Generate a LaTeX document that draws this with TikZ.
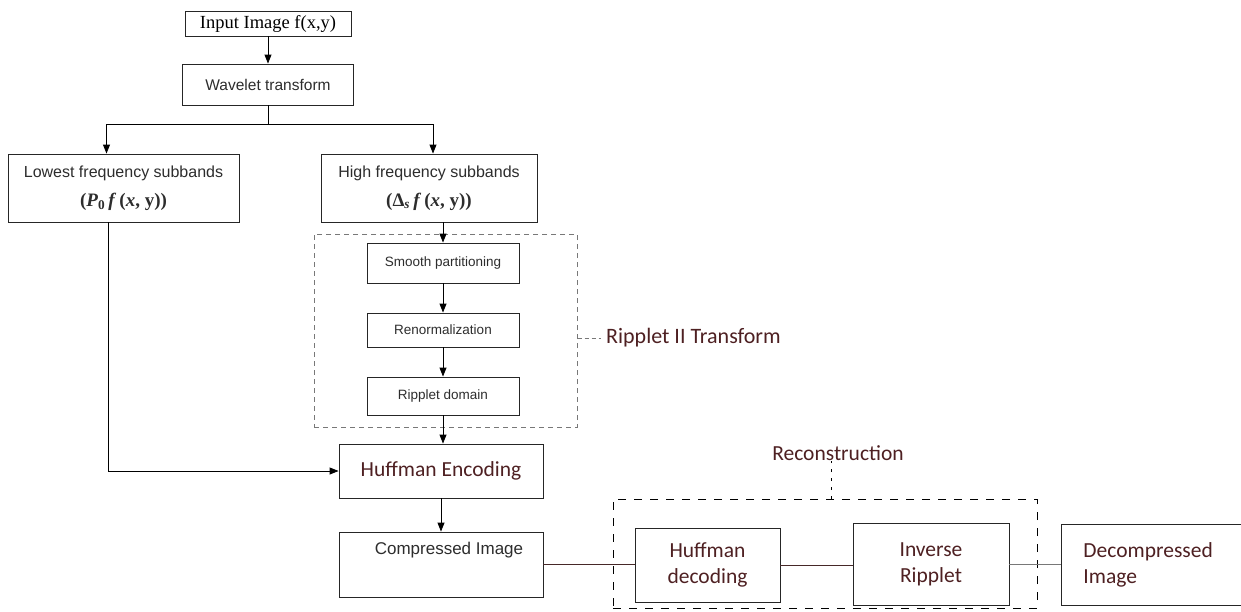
\documentclass[tikz,border=0pt]{standalone}
\usepackage{fontspec}
\setmainfont{Liberation Serif}
\newfontfamily\arialf{Liberation Sans}
\newfontfamily\calif{Carlito}
\usetikzlibrary{arrows.meta}
\definecolor{labred}{RGB}{78,32,34}
\definecolor{txtgray}{RGB}{45,45,45}
\definecolor{brn}{RGB}{70,40,40}
\definecolor{dgray}{RGB}{120,120,120}
\newcommand{\mathtxt}[1]{{\rmfamily\bfseries\fontsize{19}{20}\selectfont #1}}
\begin{document}
\begin{tikzpicture}[x=1pt,y=-1pt,
  box/.style={draw=black!85, line width=0.9pt, rectangle, inner sep=0pt, align=center, fill=white},
  ar/.style={font=\arialf\fontsize{15.5}{19}\selectfont, text=txtgray},
  arsmall/.style={font=\arialf\fontsize{13.5}{16}\selectfont, text=txtgray},
  cal/.style={font=\calif\fontsize{21.5}{26}\selectfont, text=labred},
  arr/.style={draw=black, line width=0.9pt, -{Triangle[length=9pt,width=7pt]}},
  conn/.style={draw=brn, line width=1pt},
  rbox/.style={draw=dgray, line width=1pt, dash pattern=on 5pt off 4pt, rectangle, inner sep=0pt},
  recbox/.style={draw=black, line width=1pt, dash pattern=on 8pt off 8pt, rectangle, inner sep=0pt}
]
\useasboundingbox (0,0) rectangle (1241,611);
\clip (0,0) rectangle (1241,611);
\fill[white] (0,0) rectangle (1241,611);

% top
\node[box, minimum width=166, minimum height=25, font=\fontsize{18.5}{20}\selectfont] (in) at (268,23.5) {Input Image f(x,y)};
\node[box, minimum width=171, minimum height=41, ar] (wav) at (268,84.5) {Wavelet transform};

% subbands
\node[box, minimum width=231, minimum height=68, ar, font=\arialf\fontsize{16}{29}\selectfont] (low) at (123.5,188)
  {Lowest frequency subbands\\ \mathtxt{(\textit{P}\textsubscript{0}\,\textit{f}\,(\textit{x}, y))}};
\node[box, minimum width=216, minimum height=68, ar, font=\arialf\fontsize{16}{29}\selectfont] (high) at (429,188)
  {High frequency subbands\\ \mathtxt{(Δ\textsubscript{\textit{s}}\,\textit{f}\,(\textit{x}, y))}};

% ripplet II
\node[rbox, minimum width=263, minimum height=193] (rb) at (445.5,330.5) {};
\node[box, minimum width=152, minimum height=40, arsmall] (sp) at (443,263) {Smooth partitioning};
\node[box, minimum width=152, minimum height=34, arsmall] (ren) at (443,330) {Renormalization};
\node[box, minimum width=152, minimum height=38, arsmall] (rd) at (443,396) {Ripplet domain};
\node[cal, anchor=west, inner sep=0pt, font=\calif\fontsize{22}{26}\selectfont] (rtl) at (606,338) {Ripplet II Transform};
\draw[draw=dgray, line width=1pt, dash pattern=on 4pt off 3pt] (rb.east |- rtl.west) -- ([xshift=-5pt]rtl.west);

% huffman / compressed
\node[box, minimum width=204, minimum height=54, cal] (he) at (441,471) {Huffman Encoding};
\node[box, minimum width=204, minimum height=65] (ci) at (441,564.5) {};
\node[ar, inner sep=0pt, font=\arialf\fontsize{17}{20}\selectfont] (citext) at (449,550) {Compressed Image};

% reconstruction
\node[recbox, minimum width=424, minimum height=109] (recb) at (825,553.5) {};
\node[cal, inner sep=0pt] (rec) at (838,453) {Reconstruction};
\coordinate (rtick) at (831,499);
\draw[draw=black, line width=0.8pt, dash pattern=on 3pt off 6pt] (rtick) -- (rtick |- rec.south);

\node[box, minimum width=145, minimum height=74, cal] (hd) at (707.5,565) {Huffman\\decoding};
\node[box, minimum width=156, minimum height=82, cal] (ir) at (931,564) {Inverse\\Ripplet};
\node[box, anchor=west, minimum height=81, text width=200, inner xsep=22pt, align=left, cal] (dc) at (1061,564.5) {Decompressed\\Image};

% connectors
\draw[arr] (in.south) -- (wav.north);
\draw[line width=0.9pt] (wav.south) -- ++(0,19) coordinate (split);
\draw[arr] (split) -| ([xshift=-17pt]low.north);
\draw[arr] (split) -| ([xshift=4pt]high.north);
\draw[arr] (sp.north |- high.south) -- (sp.north);
\draw[arr] (sp.south) -- (ren.north);
\draw[arr] (ren.south) -- (rd.north);
\draw[arr] (rd.south) -- (rd.south |- he.north);
\draw[arr] ([xshift=-15pt]low.south) |- (he.west);
\draw[arr] (he.south -| ci.north) -- (ci.north);
\draw[conn] (ci.east) -- (ci.east -| hd.west);
\draw[conn] (hd.east) -- (hd.east -| ir.west);
\draw[conn, draw=dgray] (ir.east) -- (ir.east -| dc.west);
\end{tikzpicture}
\end{document}
